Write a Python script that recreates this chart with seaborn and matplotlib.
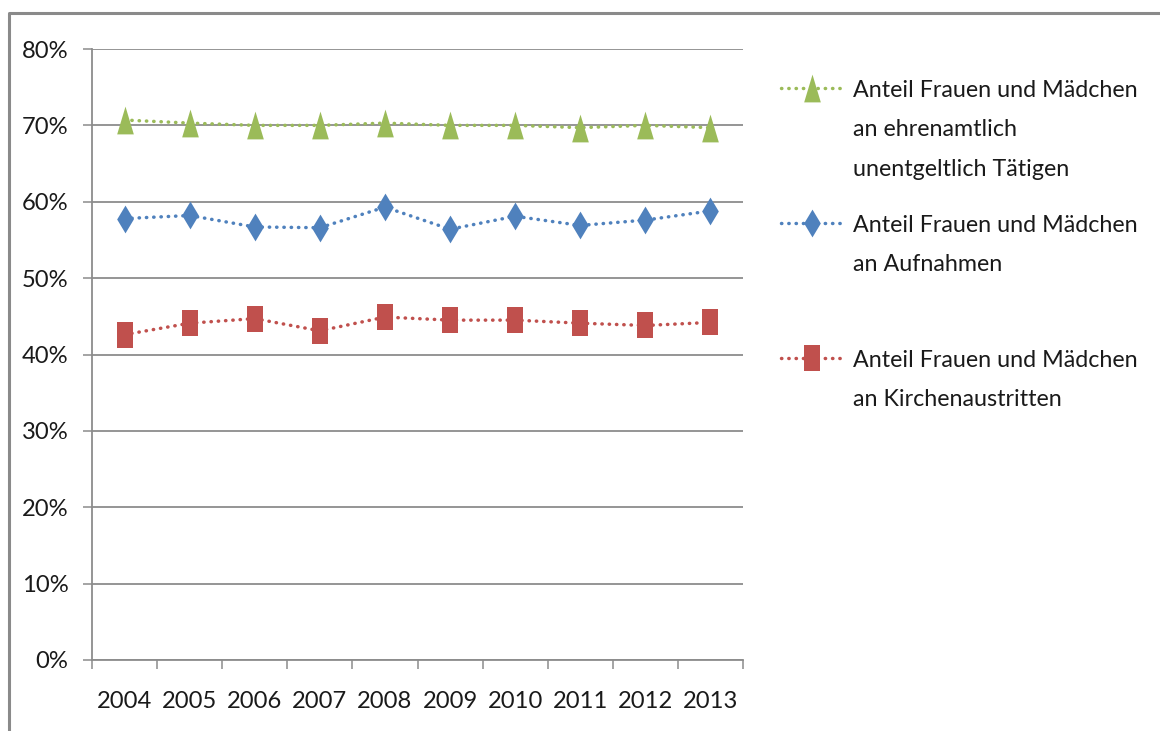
import numpy as np
import pandas as pd
import seaborn as sns
import matplotlib.pyplot as plt
from matplotlib.lines import Line2D
from matplotlib.ticker import FixedLocator, PercentFormatter

years = ["2004", "2005", "2006", "2007", "2008", "2009", "2010", "2011", "2012", "2013"]
ehrenamt = [70.7, 70.3, 70.0, 70.0, 70.3, 70.0, 70.0, 69.7, 70.0, 69.7]
aufnahmen = [57.8, 58.2, 56.7, 56.6, 59.3, 56.4, 58.1, 56.9, 57.6, 58.8]
austritte = [42.6, 44.1, 44.7, 43.1, 44.9, 44.5, 44.5, 44.1, 43.8, 44.2]

labels = [["Anteil Frauen und Mädchen", "an ehrenamtlich", "unentgeltlich Tätigen"],
          ["Anteil Frauen und Mädchen", "an Aufnahmen"],
          ["Anteil Frauen und Mädchen", "an Kirchenaustritten"]]
colors = ["#9BBB59", "#4F81BD", "#C0504D"]

# narrow markers (the picture is squeezed horizontally)
w = 0.6
tri = [(-w, -1), (w, -1), (0, 1), (-w, -1)]
dia = [(0, -1), (w, 0), (0, 1), (-w, 0), (0, -1)]
sq = [(-w, -1), (w, -1), (w, 1), (-w, 1), (-w, -1)]
markers = [tri, dia, sq]
msizes = [20, 20, 18.5]
dots = (0, (0.1, 2.0))
lw = 2.5

sns.set_style("white")
plt.rcParams['font.family'] = ['Lato', 'DejaVu Sans']
txtcol = "#1a1a1a"

W, H = 1160, 731
fig = plt.figure(figsize=(W / 100, H / 100), dpi=100)
ax = fig.add_axes([92 / W, 1 - 660 / H, (743 - 92) / W, (660 - 49) / H])

# fit font sizes to the widths seen in the reference
renderer = fig.canvas.get_renderer()
def fit_size(s, target_px, base=20):
    t = fig.text(0, 0, s, fontsize=base)
    wpx = t.get_window_extent(renderer).width
    t.remove()
    return base * target_px / wpx
tick_fs = fit_size("2004", 55)
leg_fs = fit_size("Anteil Frauen und Mädchen", 286)

x = np.arange(len(years))
series = [ehrenamt, aufnahmen, austritte]
for vals, col, mk, ms in zip(series, colors, markers, msizes):
    df = pd.DataFrame({"x": x, "y": vals})
    sns.lineplot(data=df, x="x", y="y", ax=ax, color=col, marker=mk,
                 markersize=ms, markeredgewidth=0, linewidth=lw,
                 linestyle=dots, dash_capstyle="round", zorder=3)

ax.set_xlim(-0.5, len(years) - 0.5)
ax.set_ylim(0, 80)
ax.set_yticks(np.arange(0, 81, 10))
ax.yaxis.set_major_formatter(PercentFormatter(decimals=0))
ax.set_xticks(x)
ax.set_xticklabels(years)
ax.xaxis.set_minor_locator(FixedLocator(np.arange(-0.5, len(years), 1)))
ax.tick_params(axis="x", which="major", length=0, pad=22, labelsize=tick_fs, colors=txtcol)
ax.tick_params(axis="x", which="minor", length=6.5, width=1.1, color="#8c8c8c", direction="out", bottom=True)
ax.tick_params(axis="y", length=6.5, width=1.1, color="#8c8c8c", direction="out", left=True,
               pad=10.5, labelsize=tick_fs, labelcolor=txtcol)
ax.grid(axis="y", color="#8c8c8c", linewidth=1.3)
ax.set_axisbelow(True)
ax.set_xlabel("")
ax.set_ylabel("")
for s in ["top", "right"]:
    ax.spines[s].set_visible(False)
for s in ["left", "bottom"]:
    ax.spines[s].set_color("#8c8c8c")
    ax.spines[s].set_linewidth(1.3)

# legend drawn by hand so the handle sits on the first text line
handle_y = [88, 223, 358]
baselines = [[97, 136.5, 176], [231.5, 270.7], [366.7, 405.5]]
for lines, col, mk, ms, hy, bls in zip(labels, colors, markers, msizes, handle_y, baselines):
    yf = 1 - hy / H
    fig.add_artist(Line2D([781 / W, 841 / W], [yf, yf], transform=fig.transFigure,
                          color=col, linewidth=lw, linestyle=dots, dash_capstyle="round"))
    fig.add_artist(Line2D([812 / W], [yf], transform=fig.transFigure, color=col,
                          marker=mk, markersize=ms, markeredgewidth=0, linestyle="none"))
    for line, bl in zip(lines, bls):
        fig.text(853 / W, 1 - bl / H, line, fontsize=leg_fs, color=txtcol,
                 va="baseline", ha="left")

# outer chart border (top and left visible)
fig.add_artist(Line2D([8.5 / W, 8.5 / W, 1.0], [0.0, 1 - 12.5 / H, 1 - 12.5 / H],
                      transform=fig.transFigure, color="#8a8a8a", linewidth=2.2))

fig.savefig("out.png", dpi=100)
